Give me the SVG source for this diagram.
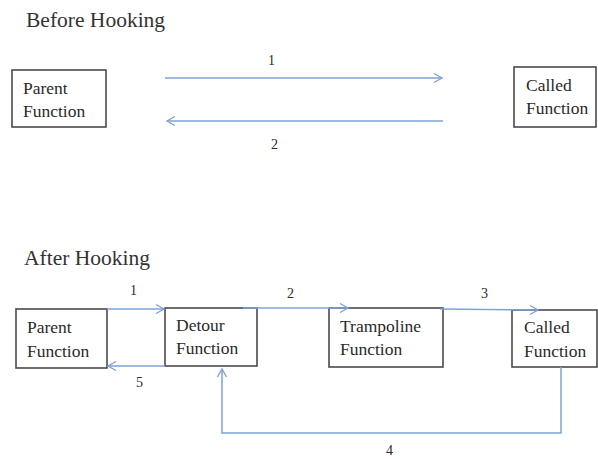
<svg xmlns="http://www.w3.org/2000/svg" width="598" height="459" viewBox="0 0 598 459">
  <defs>
    <!-- open chevron arrowhead, tip at the origin, pointing along +x -->
    <path id="ah" d="M-8,-4.5 L0,0 L-8,4.5" fill="none" stroke="#7fa3d6" stroke-width="1.4"/>
  </defs>
  <style>
    .box { fill: #ffffff; stroke: #4a4a4a; stroke-width: 1.6; }
    .conn { fill: none; stroke: #7fa3d6; stroke-width: 1.5; }
  </style>

  <rect width="598" height="459" fill="#ffffff"/>

  <!-- section headings -->
  <text x="26" y="27" font-family="Liberation Serif" font-size="21.5" fill="#333333" style="font-family:'Liberation Serif',serif">Before Hooking</text>
  <text x="24" y="265" font-family="Liberation Serif" font-size="21.5" fill="#333333" style="font-family:'Liberation Serif',serif">After Hooking</text>

  <!-- before hooking: nodes -->
  <g id="parent-before" font-family="Liberation Serif" font-size="17.5" fill="#2a2a2a">
    <rect class="box" x="12" y="70" width="94" height="57"/>
    <text x="23" y="94" style="font-family:'Liberation Serif',serif">Parent</text>
    <text x="23" y="117" style="font-family:'Liberation Serif',serif">Function</text>
  </g>
  <g id="called-before" font-family="Liberation Serif" font-size="17.5" fill="#2a2a2a">
    <rect class="box" x="514" y="67" width="82" height="60"/>
    <text x="526" y="91" style="font-family:'Liberation Serif',serif">Called</text>
    <text x="526" y="114" style="font-family:'Liberation Serif',serif">Function</text>
  </g>

  <!-- after hooking: nodes -->
  <g id="parent-after" font-family="Liberation Serif" font-size="17.5" fill="#2a2a2a">
    <rect class="box" x="16" y="309" width="91" height="59"/>
    <text x="27" y="333" style="font-family:'Liberation Serif',serif">Parent</text>
    <text x="27" y="357" style="font-family:'Liberation Serif',serif">Function</text>
  </g>
  <g id="detour" font-family="Liberation Serif" font-size="17.5" fill="#2a2a2a">
    <rect class="box" x="165" y="308" width="92" height="58"/>
    <text x="176" y="331" style="font-family:'Liberation Serif',serif">Detour</text>
    <text x="176" y="354" style="font-family:'Liberation Serif',serif">Function</text>
  </g>
  <g id="trampoline" font-family="Liberation Serif" font-size="17.5" fill="#2a2a2a">
    <rect class="box" x="329" y="308" width="114" height="59"/>
    <text x="340" y="332" style="font-family:'Liberation Serif',serif">Trampoline</text>
    <text x="340" y="355" style="font-family:'Liberation Serif',serif">Function</text>
  </g>
  <g id="called-after" font-family="Liberation Serif" font-size="17.5" fill="#2a2a2a">
    <rect class="box" x="512" y="310" width="85" height="57"/>
    <text x="524" y="333" style="font-family:'Liberation Serif',serif">Called</text>
    <text x="524" y="357" style="font-family:'Liberation Serif',serif">Function</text>
  </g>

  <!-- connectors -->
  <g id="connectors">
    <line class="conn" x1="165" y1="78" x2="442" y2="78"/>
    <use href="#ah" transform="translate(442,78)"/>
    <line class="conn" x1="443" y1="121" x2="167" y2="121"/>
    <use href="#ah" transform="translate(167,121) rotate(180)"/>

    <line class="conn" x1="107" y1="309" x2="164" y2="309"/>
    <use href="#ah" transform="translate(164,309)"/>
    <line class="conn" x1="243" y1="308" x2="348" y2="308"/>
    <use href="#ah" transform="translate(348,308)"/>
    <line class="conn" x1="440" y1="309" x2="538" y2="310"/>
    <use href="#ah" transform="translate(538,310)"/>
    <polyline class="conn" points="561,367 561,433 222,433 222,369"/>
    <use href="#ah" transform="translate(222,369) rotate(-90)"/>
    <line class="conn" x1="165" y1="366" x2="108" y2="366"/>
    <use href="#ah" transform="translate(108,366) rotate(180)"/>
  </g>

  <!-- step numbers -->
  <g id="steps" font-family="Liberation Serif" font-size="14" fill="#2a2a2a">
    <text x="268" y="65" style="font-family:'Liberation Serif',serif">1</text>
    <text x="271" y="149" style="font-family:'Liberation Serif',serif">2</text>
    <text x="130" y="295" style="font-family:'Liberation Serif',serif">1</text>
    <text x="287" y="298" style="font-family:'Liberation Serif',serif">2</text>
    <text x="481" y="298" style="font-family:'Liberation Serif',serif">3</text>
    <text x="386" y="455" style="font-family:'Liberation Serif',serif">4</text>
    <text x="136" y="387" style="font-family:'Liberation Serif',serif">5</text>
  </g>
</svg>
